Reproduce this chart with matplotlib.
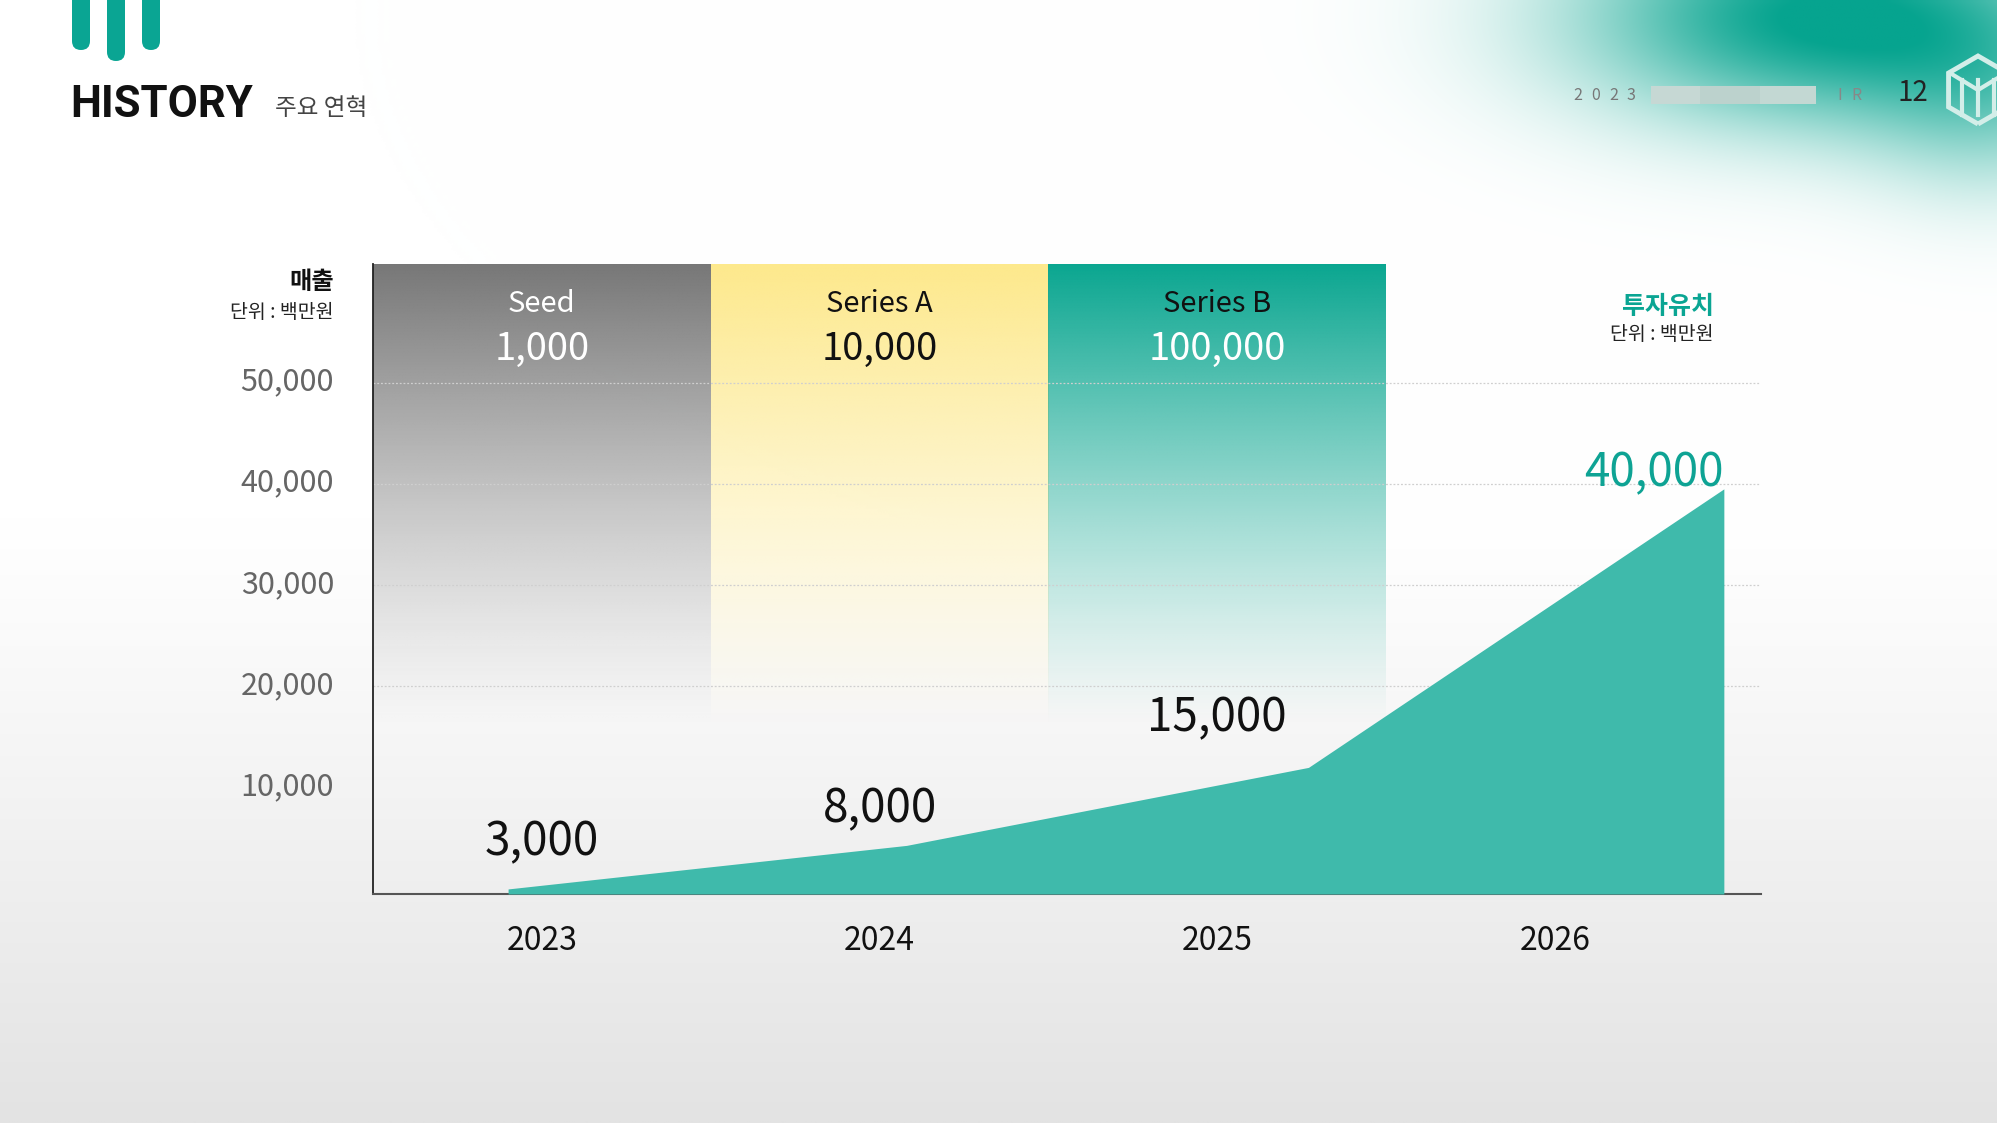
"""History slide: revenue area chart with investment-round bands."""
import numpy as np
import matplotlib
matplotlib.use("Agg")
import matplotlib.pyplot as plt
import matplotlib.transforms as mtransforms
from matplotlib.colors import to_rgb
from matplotlib.patches import FancyBboxPatch, Rectangle, RegularPolygon

# ---- data -------------------------------------------------------------
YEARS = ["2023", "2024", "2025", "2026"]
REVENUE = [3000, 8000, 15000, 40000]
AREA_X = [-0.10, 1.08, 2.27, 3.50]        # area vertices, column units
AREA_Y = [0, 4300, 12000, 39500]
ROUNDS = ["Seed", "Series A", "Series B"]
ROUND_AMOUNTS = [1000, 10000, 100000]
Y_TICKS = [10000, 20000, 30000, 40000, 50000]
GRID_Y = [20000, 30000, 40000, 50000]

# ---- style ------------------------------------------------------------
TEAL = "#0aa593"
AREA_C = "#3fbaab"
BAND_COLORS = ["#777777", "#fde98c", "#0aa690"]
ROUND_NAME_C = ["white", "#111111", "#111111"]
ROUND_AMT_C = ["white", "#111111", "white"]
REV_LABEL_Y = [4600, 7900, 16850, 41100]
REV_LABEL_X = [0, 1, 2, 3.5]
YMIN, YMAX = -500, 61700
BAND_FADE = 16000

plt.rcParams["font.family"] = ["Noto Sans CJK KR", "DejaVu Sans"]

W, H = 1997, 1123
fig = plt.figure(figsize=(W / 100, H / 100), dpi=100)

# ---- background (pixel coordinates) ----------------------------------
bg = fig.add_axes([0, 0, 1, 1], zorder=0)
ny, nx = 300, 540
yy, xx = np.mgrid[0:ny, 0:nx]
py = yy * H / (ny - 1)
px = xx * W / (nx - 1)
t = np.clip((py - 520) / (H - 520), 0, 1) ** 1.1
base = 255 - 28 * t
g1 = np.exp(-((px - 1825) ** 2 / (2 * 170 ** 2) + (py - 15) ** 2 / (2 * 75 ** 2)))
g2 = 0.35 * np.exp(-((px - 1997) ** 2 / (2 * 90 ** 2) + (py - 100) ** 2 / (2 * 70 ** 2)))
a = np.clip(1.02 * (g1 + g2), 0, 1)[..., None]
teal_rgb = np.array([6, 164, 143])
img = base[..., None] * (1 - a) + teal_rgb * a
bg.imshow(img / 255.0, extent=[0, W, H, 0], aspect="auto", interpolation="bilinear")
bg.set_xlim(0, W)
bg.set_ylim(H, 0)
bg.axis("off")

# logo bars
for x0, y1 in [(72, 50), (107, 61), (142, 50)]:
    bg.add_patch(FancyBboxPatch((x0, -30), 18, y1 + 30,
                                boxstyle="round,pad=0,rounding_size=9",
                                fc=TEAL, ec="none"))
bg.text(70, 117, "HISTORY", fontsize=31.5, fontweight="bold", color="#111",
        ha="left", va="baseline", family=["Roboto", "Noto Sans CJK KR"])
bg.text(275, 115, "주요 연혁", fontsize=17, color="#444", ha="left", va="baseline")

# header right
for i, ch in enumerate("2023"):
    bg.text(1573 + i * 18, 95, ch, fontsize=11.5, color="#777", ha="left", va="center")
for x0, x1, c in [(1651, 1700, "#c6d8d4"), (1700, 1760, "#bcd2cd"),
                  (1760, 1816, "#c3d8d3")]:
    bg.add_patch(Rectangle((x0, 86), x1 - x0, 18, fc=c, ec="none"))
bg.text(1837, 95, "I", fontsize=11.5, color="#888", ha="left", va="center")
bg.text(1851, 95, "R", fontsize=11.5, color="#888", ha="left", va="center")
bg.text(1898, 93, "12", fontsize=20, color="#222", ha="left", va="center")
bg.add_patch(RegularPolygon((1978, 90), numVertices=6, radius=34, fill=False,
                            ec="#d3eee9", lw=3.5))
bg.plot([1950, 1978, 2006], [73, 90, 73], color="#d3eee9", lw=3)
for xv in [1962, 1978, 1994]:
    bg.plot([xv, xv], [80, 115], color="#d3eee9", lw=3)

# left axis caption
bg.text(334, 282, "매출", fontsize=17.5, fontweight="bold", color="#111",
        ha="right", va="center")
bg.text(334, 312, "단위 : 백만원", fontsize=14, color="#222", ha="right", va="center")

# ---- main chart -------------------------------------------------------
ax = fig.add_axes([373 / W, 1 - 894 / H, (1761 - 373) / W, (894 - 264) / H], zorder=1)
ax.patch.set_visible(False)

n = 256
v = np.linspace(YMAX, BAND_FADE, n)
alpha = ((v - BAND_FADE) / (YMAX - BAND_FADE)) ** 1.2
for i, c in enumerate(BAND_COLORS):
    arr = np.zeros((n, 2, 4))
    arr[..., :3] = to_rgb(c)
    arr[..., 3] = alpha[:, None]
    ax.imshow(arr, extent=[i - 0.5, i + 0.5, BAND_FADE, YMAX], aspect="auto",
              interpolation="bilinear", zorder=1)
    ax.text(i, 57750, ROUNDS[i], fontsize=21, color=ROUND_NAME_C[i],
            ha="center", va="center", zorder=5)
    ax.text(i, 53300, f"{ROUND_AMOUNTS[i]:,}", fontsize=27.5, color=ROUND_AMT_C[i],
            ha="center", va="center", zorder=5)

for g in GRID_Y:
    ax.axhline(g, color="#cfcfcf", lw=0.9, ls=(0, (1.5, 1.5)), zorder=2)

ax.fill_between(AREA_X, AREA_Y, YMIN, color=AREA_C, lw=0, zorder=3)

for i, r in enumerate(REVENUE):
    last = i == len(REVENUE) - 1
    ax.text(REV_LABEL_X[i], REV_LABEL_Y[i], f"{r:,}", fontsize=33,
            color="#0ea394" if last else "#111",
            ha="right" if last else "center", va="center", zorder=5)

ax.text(3.47, 57500, "투자유치", fontsize=18, fontweight="bold", color=TEAL,
        ha="right", va="center")
ax.text(3.47, 54700, "단위 : 백만원", fontsize=14, color="#222",
        ha="right", va="center")

ax.set_xlim(-0.5, 3.61)
ax.set_ylim(YMIN, YMAX)
ax.set_yticks(Y_TICKS, labels=[f"{t:,}" for t in Y_TICKS])
ax.set_xticks(range(len(YEARS)), labels=YEARS)
ax.tick_params(axis="y", length=0, pad=28, labelsize=22, labelcolor="#666666")
ax.tick_params(axis="x", length=0, pad=22, labelsize=23, labelcolor="#111")
shift = mtransforms.ScaledTranslation(0, 3 / 72, fig.dpi_scale_trans)
for lab in ax.get_yticklabels():
    lab.set_transform(lab.get_transform() + shift)
for s in ["top", "right"]:
    ax.spines[s].set_visible(False)
ax.spines["left"].set_color("#222")
ax.spines["left"].set_linewidth(1.3)
ax.spines["bottom"].set_color("#555")
ax.spines["bottom"].set_linewidth(1.5)

fig.savefig("out.png", dpi=100)
